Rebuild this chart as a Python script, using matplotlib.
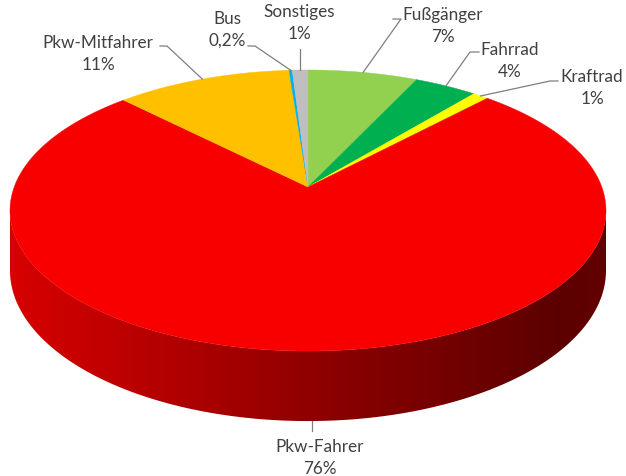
import numpy as np
import matplotlib.pyplot as plt
from matplotlib.patches import Polygon
from matplotlib.colors import to_rgb

# data
categories = ['Fußgänger', 'Fahrrad', 'Kraftrad', 'Pkw-Fahrer', 'Pkw-Mitfahrer', 'Bus', 'Sonstiges']
shares = [7.0, 4.0, 1.0, 75.6, 11.2, 0.2, 1.0]
share_labels = ['7%', '4%', '1%', '76%', '11%', '0,2%', '1%']
colors = ['#92D050', '#00B050', '#FFFF00', '#F80000', '#FFC000', '#00B0F0', '#BFBFBF']

# label layout (pixel coords): name centre, and where the leader starts
label_xy = [(443, 15), (510, 50), (592, 77), (320, 447), (98, 43), (227, 19), (299, 12)]
leader_start = [[(393, 20), (401, 20)], [(479, 53), (470, 53)], [(558, 82), (550, 82)],
                [None], [(160, 47), (167, 47)], [(248, 47), (255, 47)], [None]]

# perspective pie geometry (pixels)
cx, cy = 308, 188
A, B, k = 293.8, 136.6, 0.1673
depth = 58.3

def rim(theta, down=0.0):
    u, v = np.sin(theta), np.cos(theta)
    w = 1 + k * v
    return cx + A * u / w, cy - B * v / w + down / w

fig = plt.figure(figsize=(6.26, 4.77), dpi=100)
ax = fig.add_axes([0, 0, 1, 1])
ax.set_xlim(0, 626)
ax.set_ylim(477, 0)
ax.axis('off')

fr = np.array(shares) / sum(shares)
edges = np.concatenate([[0], np.cumsum(fr)]) * 2 * np.pi

# visible front wall: between the two tangent points
t_right = np.arctan2(np.sqrt(1 - k**2), -k)
t_left = 2 * np.pi - t_right

xs_grad = np.linspace(0, 626, 600)
shade = np.interp(xs_grad, [10, 310, 560, 606], [0.87, 0.58, 0.37, 0.40])

for i in range(len(shares)):
    a0, a1 = max(edges[i], t_right), min(edges[i + 1], t_left)
    if a1 <= a0:
        continue
    th = np.linspace(a0, a1, 200)
    tx, ty = rim(th)
    bx, by = rim(th[::-1], depth)
    poly = Polygon(np.column_stack([np.r_[tx, bx], np.r_[ty, by]]), closed=True,
                   facecolor='none', edgecolor='none')
    ax.add_patch(poly)
    rgb = np.array(to_rgb(colors[i]))
    img = shade[None, :, None] * rgb[None, None, :]
    im = ax.imshow(img, extent=(0, 626, 477, 0), aspect='auto', interpolation='bilinear')
    im.set_clip_path(poly)

# top face
for i in range(len(shares)):
    th = np.linspace(edges[i], edges[i + 1], max(int(300 * fr[i]), 4))
    px, py = rim(th)
    ax.add_patch(Polygon(np.column_stack([np.r_[cx, px], np.r_[cy, py]]), closed=True,
                         facecolor=colors[i], edgecolor=colors[i], linewidth=0.3))

# labels with leader lines
for i in range(len(shares)):
    mid = (edges[i] + edges[i + 1]) / 2
    front = t_right < mid < t_left
    ex, ey = rim(mid, depth if front else 0)
    if leader_start[i][0] is None:
        pts = [(ex, ey + 10), (ex, ey)] if front else [(ex, ey - 21), (ex, ey)]
    else:
        pts = leader_start[i] + [(ex, ey)]
    pts = np.array(pts)
    ax.plot(pts[:, 0], pts[:, 1], color='#7F7F7F', linewidth=0.9)
    lx, ly = label_xy[i]
    ax.text(lx, ly, categories[i], ha='center', va='center', fontsize=12.3,
            family='Lato', color='#404040')
    ax.text(lx, ly + 22, share_labels[i], ha='center', va='center', fontsize=12.3,
            family='Lato', color='#404040')

plt.savefig('out.png', dpi=100)
